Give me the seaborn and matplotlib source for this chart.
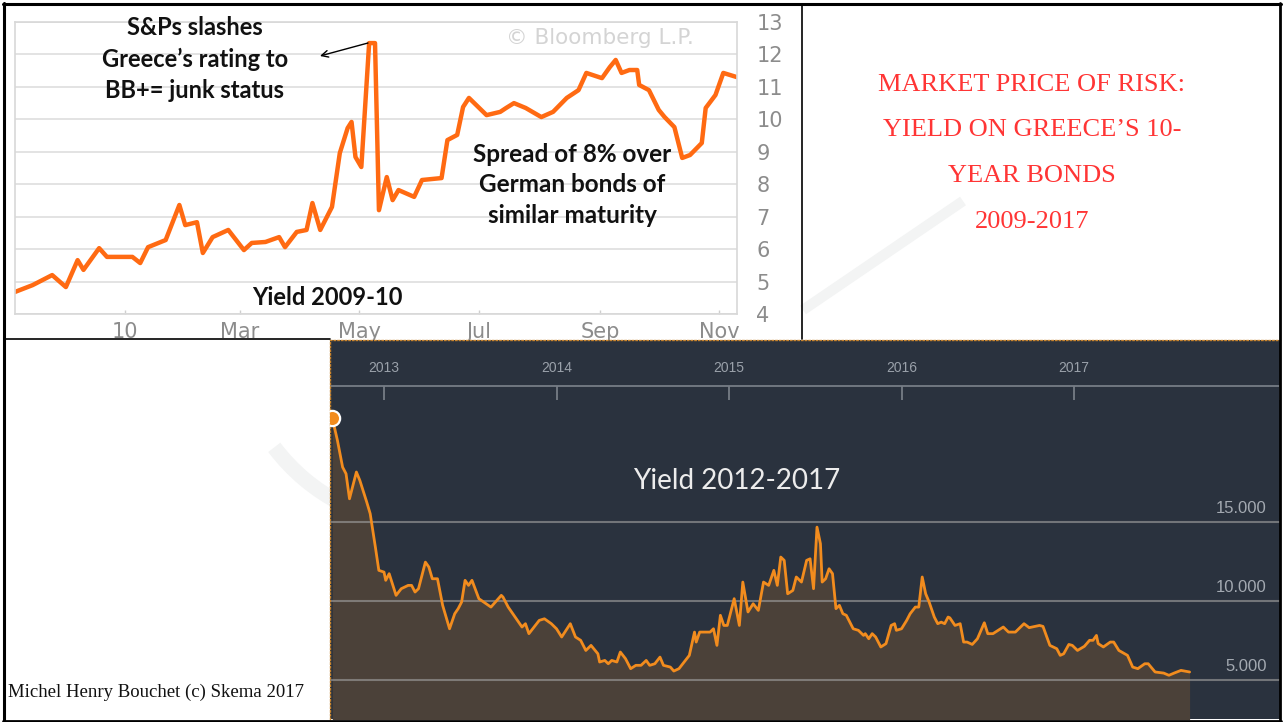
import numpy as np
import pandas as pd
import matplotlib
matplotlib.use("Agg")
import matplotlib.pyplot as plt
from matplotlib.lines import Line2D
from matplotlib.patches import Arc
import seaborn as sns

# ---------------- data: Greek 10y yield 2009-10 (top chart, %) ----------------
dates_0910 = ['2009-11-06', '2009-11-15', '2009-11-25', '2009-12-02', '2009-12-08', '2009-12-11',
              '2009-12-19', '2009-12-23', '2010-01-05', '2010-01-09', '2010-01-13', '2010-01-22',
              '2010-01-29', '2010-02-01', '2010-02-07', '2010-02-10', '2010-02-15', '2010-02-23',
              '2010-03-03', '2010-03-07', '2010-03-14', '2010-03-21', '2010-03-24', '2010-03-30',
              '2010-04-04', '2010-04-07', '2010-04-11', '2010-04-17', '2010-04-21', '2010-04-25',
              '2010-04-27', '2010-04-29', '2010-05-02', '2010-05-06', '2010-05-09', '2010-05-11',
              '2010-05-15', '2010-05-18', '2010-05-21', '2010-05-29', '2010-06-02', '2010-06-12',
              '2010-06-15', '2010-06-20', '2010-06-23', '2010-06-26', '2010-07-05', '2010-07-12',
              '2010-07-15', '2010-07-19', '2010-07-25', '2010-08-02', '2010-08-08', '2010-08-15',
              '2010-08-21', '2010-08-25', '2010-09-02', '2010-09-06', '2010-09-09', '2010-09-12',
              '2010-09-16', '2010-09-20', '2010-09-21', '2010-09-26', '2010-10-01', '2010-10-04',
              '2010-10-09', '2010-10-13', '2010-10-17', '2010-10-23', '2010-10-25', '2010-10-30',
              '2010-11-03', '2010-11-10']
yield_0910 = [4.68, 4.89, 5.20, 4.83, 5.66, 5.36, 6.03, 5.76, 5.76, 5.57,
              6.06, 6.28, 7.36, 6.74, 6.83, 5.88, 6.37, 6.59, 5.97, 6.19,
              6.22, 6.37, 6.06, 6.53, 6.59, 7.42, 6.59, 7.30, 8.96, 9.73,
              9.92, 8.84, 8.53, 12.35, 12.35, 7.20, 8.22, 7.51, 7.82, 7.61,
              8.13, 8.19, 9.36, 9.52, 10.38, 10.66, 10.13, 10.23, 10.35, 10.50,
              10.35, 10.07, 10.23, 10.66, 10.90, 11.43, 11.27, 11.61, 11.83, 11.43,
              11.52, 11.52, 11.06, 10.90, 10.29, 10.07, 9.76, 8.81, 8.90, 9.27,
              10.35, 10.75, 11.43, 11.30]
top_yticks = [4, 5, 6, 7, 8, 9, 10, 11, 12, 13]
month_ticks = ['2010-01-01', '2010-03-01', '2010-05-01', '2010-07-01', '2010-09-01', '2010-11-01']
month_labels = ['10', 'Mar', 'May', 'Jul', 'Sep', 'Nov']
top_xlim = ['2009-11-06', '2010-11-10']

# ---------------- data: Greek 10y yield 2012-2017 (bottom chart, %) ----------------
year_pos = [2012.70, 2012.73, 2012.76, 2012.78, 2012.80, 2012.84, 2012.86, 2012.90, 2012.92, 2012.95,
            2012.97, 2013.00, 2013.01, 2013.03, 2013.07, 2013.10, 2013.14, 2013.16, 2013.18, 2013.20,
            2013.24, 2013.26, 2013.28, 2013.31, 2013.34, 2013.38, 2013.41, 2013.43, 2013.45, 2013.47,
            2013.49, 2013.51, 2013.55, 2013.62, 2013.68, 2013.69, 2013.72, 2013.76, 2013.80, 2013.82,
            2013.84, 2013.90, 2013.93, 2013.97, 2014.00, 2014.03, 2014.08, 2014.11, 2014.14, 2014.17,
            2014.20, 2014.24, 2014.25, 2014.28, 2014.30, 2014.32, 2014.35, 2014.37, 2014.40, 2014.43,
            2014.46, 2014.49, 2014.52, 2014.54, 2014.57, 2014.60, 2014.62, 2014.66, 2014.68, 2014.71,
            2014.74, 2014.77, 2014.80, 2014.81, 2014.83, 2014.89, 2014.91, 2014.93, 2014.95, 2014.97,
            2014.99, 2015.03, 2015.06, 2015.08, 2015.11, 2015.14, 2015.17, 2015.20, 2015.23, 2015.26,
            2015.28, 2015.30, 2015.32, 2015.34, 2015.37, 2015.39, 2015.42, 2015.45,
            2015.47, 2015.49, 2015.51, 2015.53, 2015.54, 2015.56, 2015.58, 2015.60, 2015.62, 2015.64,
            2015.66, 2015.68, 2015.72, 2015.75, 2015.78, 2015.79, 2015.81, 2015.83, 2015.85, 2015.88,
            2015.91, 2015.94, 2015.96, 2015.97, 2016.00, 2016.03, 2016.05, 2016.08, 2016.10, 2016.12,
            2016.14, 2016.16, 2016.19, 2016.21, 2016.23, 2016.25, 2016.27, 2016.28, 2016.31, 2016.34,
            2016.36, 2016.38, 2016.41, 2016.44, 2016.48, 2016.50, 2016.53, 2016.59, 2016.62, 2016.66,
            2016.71, 2016.74, 2016.80, 2016.82, 2016.86, 2016.90, 2016.92, 2016.94, 2016.97, 2016.99,
            2017.02, 2017.06, 2017.09, 2017.11, 2017.13, 2017.14, 2017.17, 2017.21, 2017.23, 2017.26,
            2017.31, 2017.34, 2017.37, 2017.41, 2017.43, 2017.47, 2017.52, 2017.55, 2017.58, 2017.62,
            2017.67]
yield_1217 = [21.59, 20.16, 18.47, 18.05, 16.47, 18.16, 17.63, 16.26, 15.53, 13.42,
              11.95, 11.84, 11.32, 11.74, 10.37, 10.79, 11.00, 11.00, 10.58, 10.79,
              12.47, 12.16, 11.42, 11.42, 9.74, 8.26, 9.21, 9.53, 9.95, 11.32,
              11.00, 11.32, 10.16, 9.63, 10.37, 10.26, 9.63, 9.00, 8.37, 8.58,
              7.95, 8.79, 8.89, 8.58, 8.26, 7.74, 8.58, 7.74, 7.53, 6.89,
              7.21, 6.68, 6.16, 6.26, 6.05, 6.26, 6.16, 6.79, 6.37, 5.74,
              5.95, 5.95, 6.26, 5.95, 6.05, 6.47, 5.95, 5.84, 5.59, 5.74,
              6.16, 6.58, 8.05, 7.42, 8.05, 8.05, 8.26, 7.21, 9.11, 8.47,
              8.47, 10.16, 8.47, 11.21, 9.32, 9.84, 9.42, 11.21, 11.00, 11.95,
              11.00, 12.79, 12.58, 10.47, 10.68, 11.53, 11.21, 12.58,
              12.68, 10.79, 14.68, 13.63, 11.21, 11.42, 12.05, 11.74, 9.53, 9.74,
              9.21, 9.11, 8.26, 8.16, 7.84, 7.95, 7.63, 7.95, 7.74, 7.11,
              7.32, 8.47, 8.58, 8.16, 8.26, 8.79, 9.21, 9.63, 9.63, 11.53,
              10.47, 9.95, 9.00, 8.58, 8.68, 8.58, 9.00, 8.95, 8.47, 8.58,
              7.42, 7.42, 7.27, 7.63, 8.64, 7.95, 7.95, 8.37, 8.05, 8.05,
              8.58, 8.33, 8.47, 8.41, 7.21, 7.00, 6.58, 6.68, 7.27, 7.21,
              6.89, 7.15, 7.53, 7.53, 7.84, 7.32, 7.11, 7.42, 7.42, 6.89,
              6.58, 5.84, 5.74, 6.05, 6.05, 5.53, 5.46, 5.32, 5.46, 5.63,
              5.53]
year_ticks = [2013, 2014, 2015, 2016, 2017]
bottom_xlim = [2012.687, 2018.194]
bottom_ylim = [2.56, 26.5]
bottom_yticks = [5, 10, 15]
bottom_ytick_labels = ['5.000', '10.000', '15.000']

# ---------------- texts ----------------
title_lines = ['MARKET PRICE OF RISK:', 'YIELD ON GREECE\u2019S 10-', 'YEAR BONDS', '2009-2017']
note_sp = 'S&Ps slashes\nGreece\u2019s rating to\nBB+= junk status'
note_spread = 'Spread of 8% over\nGerman bonds of\nsimilar maturity'
label_top = 'Yield 2009-10'
label_bottom = 'Yield 2012-2017'
watermark = '\u00a9 Bloomberg L.P.'
credit = 'Michel Henry Bouchet (c) Skema 2017'

# ---------------- style ----------------
sns.set_theme(style='white')
plt.rcParams['font.family'] = ['Lato', 'DejaVu Sans']

W, H = 1283, 722
fig = plt.figure(figsize=(W / 100, H / 100), dpi=100)
fig.patch.set_facecolor('white')

# background layer in pixel coordinates (decorations and panel texts)
bg = fig.add_axes([0, 0, 1, 1], zorder=-5)
bg.set_xlim(0, W)
bg.set_ylim(H, 0)
bg.axis('off')
bg.plot([803, 963], [310, 201], color='#f3f4f4', lw=7.5, solid_capstyle='butt')
bg.add_patch(Arc((430, 330), 390, 390, theta1=117, theta2=143, color='#f3f4f4', lw=11))
for i, line in enumerate(title_lines):
    bg.text(1032, 85 + i * 45.5, line, ha='center', va='center', color='#FF3535',
            fontsize=19, family='Liberation Serif')
bg.text(8, 697, credit, ha='left', va='baseline', color='#111111',
        fontsize=13.5, family='Liberation Serif')

# ---------------- top chart ----------------
ORANGE_TOP = '#FF6A12'
GRAY_TXT = '#8c8c8c'
ax1 = fig.add_axes([15 / W, 1 - 314 / H, 722 / W, 292 / H], zorder=1)
ax1.set_facecolor('white')
sns.lineplot(x=pd.to_datetime(dates_0910), y=yield_0910, ax=ax1, color=ORANGE_TOP, lw=3.2)
ax1.set_xlim(pd.to_datetime(top_xlim[0]), pd.to_datetime(top_xlim[1]))
ax1.set_ylim(top_yticks[0], top_yticks[-1])
ax1.yaxis.tick_right()
ax1.set_yticks(top_yticks)
ax1.set_yticklabels([str(v) for v in top_yticks])
ax1.set_xticks(pd.to_datetime(month_ticks))
ax1.set_xticklabels(month_labels)
ax1.tick_params(axis='y', length=0, pad=14, labelsize=15, labelcolor=GRAY_TXT)
ax1.tick_params(axis='x', direction='in', length=3, width=1, color='#cfcfcf', pad=6,
                labelsize=15, labelcolor=GRAY_TXT, bottom=True)
for lab in ax1.get_xticklabels() + ax1.get_yticklabels():
    lab.set_family('DejaVu Sans')
ax1.grid(axis='y', color='#e0e0e0', lw=1.3)
ax1.grid(axis='x', visible=False)
for s in ax1.spines.values():
    s.set_color('#d8d8d8')
    s.set_linewidth(1.2)
ax1.set_xlabel('')
ax1.set_ylabel('')

ax1.text(0.810, 0.945, watermark, transform=ax1.transAxes, ha='center', va='center',
         color='#d4d4d4', fontsize=15.5, family='DejaVu Sans')
ax1.text(0.2493, 0.873, note_sp, transform=ax1.transAxes, ha='center', va='center',
         fontsize=17, fontweight='bold', color='#111111', linespacing=1.45)
ax1.text(0.7715, 0.4418, note_spread, transform=ax1.transAxes, ha='center', va='center',
         fontsize=17.5, fontweight='bold', color='#111111', linespacing=1.4)
ax1.text(0.432, 0.058, label_top, transform=ax1.transAxes, ha='center', va='center',
         fontsize=17, fontweight='bold', color='#111111')
ax1.annotate('', xy=(0.4224, 0.8836), xytext=(0.4889, 0.9281),
             xycoords='axes fraction', textcoords='axes fraction',
             arrowprops=dict(arrowstyle='->', color='black', lw=1.0, shrinkA=0, shrinkB=0))

# ---------------- bottom chart ----------------
BG_DARK = '#2A323E'
FILL = '#4B4139'
ORANGE_BOT = '#F28C1E'
ax2 = fig.add_axes([330 / W, 1 - 719 / H, 950 / W, 379 / H], zorder=1)
ax2.set_facecolor(BG_DARK)
ax2.fill_between(year_pos, yield_1217, bottom_ylim[0] - 1, color=FILL, lw=0, zorder=1)
for v in bottom_yticks:
    ax2.axhline(v, color='#9a9a9a', alpha=0.65, lw=1.5, zorder=2)
sns.lineplot(x=year_pos, y=yield_1217, ax=ax2, color=ORANGE_BOT, lw=2.0, zorder=3)
ax2.plot(year_pos[0], yield_1217[0], 'o', ms=11, mfc=ORANGE_BOT, mec='white', mew=1.6, zorder=4)
ax2.set_xlim(*bottom_xlim)
ax2.set_ylim(*bottom_ylim)
ax2.set_xticks([])
ax2.set_yticks([])
ax2.set_xlabel('')
ax2.set_ylabel('')
for side in ['bottom', 'right']:
    ax2.spines[side].set_visible(False)
for side in ['top', 'left']:
    ax2.spines[side].set_color('#c9852e')
    ax2.spines[side].set_linestyle(':')
    ax2.spines[side].set_linewidth(1.0)

# timeline on top with year ticks
xt = ax2.get_xaxis_transform()
ax2.plot([0, 1], [0.8794, 0.8794], transform=ax2.transAxes, color='#767d86', lw=1.3, zorder=2)
ax2.vlines(year_ticks + bottom_xlim, 0.842, 0.8794, transform=xt, color='#767d86', lw=1.3, zorder=2)
for yr in year_ticks:
    ax2.text(yr, 0.927, str(yr), transform=xt, ha='center', va='center', color='#9aa1aa',
             fontsize=10, family='Liberation Sans')
for v, lab in zip(bottom_yticks, bottom_ytick_labels):
    ax2.annotate(lab, xy=(0.9863, v), xycoords=('axes fraction', 'data'), xytext=(0, 6.7),
                 textcoords='offset points', ha='right', va='baseline', color='#a3a9b1',
                 fontsize=12, family='Liberation Sans')
ax2.text(0.4284, 0.628, label_bottom, transform=ax2.transAxes, ha='center', va='center',
         fontsize=20, color='#ececec', family='Lato')

# ---------------- outer frames ----------------
def frame(x0, y0, x1, y1, lw):
    fig.add_artist(Line2D([x0 / W, x1 / W], [1 - y0 / H, 1 - y1 / H], transform=fig.transFigure,
                          color='black', lw=lw, zorder=20))

frame(3, 4, 1281, 4, 2.2)
frame(4, 3, 4, 720, 2.2)
frame(1280, 3, 1280, 720, 2.0)
frame(3, 720.5, 1281, 720.5, 2.0)
frame(802, 4, 802, 339, 1.2)
frame(4, 339, 330, 339, 1.2)

fig.savefig('out.png', dpi=100, facecolor='white')
